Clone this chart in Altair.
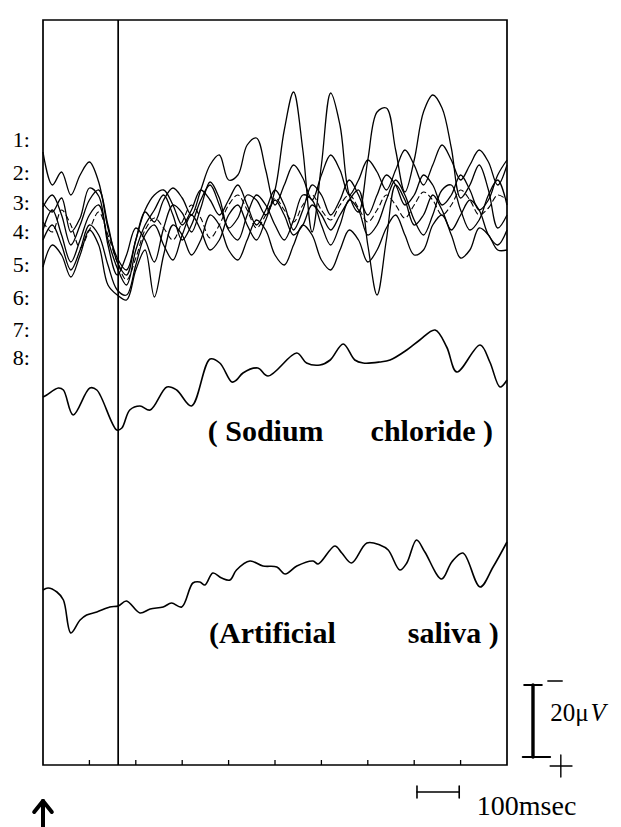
import altair as alt
import pandas as pd

# ---------------- data ----------------
# time axis in ms (0..1000), amplitude in chart units (negative-up display)
t_grid = list(range(0, 1001, 20))

trace_1 = [203,212,198,232,218,188,196,245,275,255,228,240,262,228,205,213,232,208,182,198,228,218,195,200,215,190,130,92,150,232,165,93,125,195,212,160,112,108,150,192,160,112,95,108,148,198,185,165,190,228,215]
trace_2 = [240,225,245,270,250,225,235,265,290,295,265,235,225,245,260,235,215,230,250,240,215,205,225,240,220,200,215,235,225,205,215,230,215,200,190,245,295,240,185,200,225,215,195,210,230,215,200,210,235,245,230]
trace_3 = [152,185,172,195,175,162,182,228,258,270,240,212,222,200,188,198,215,190,165,155,180,175,145,138,170,205,185,165,178,200,175,155,170,195,180,160,172,190,170,150,165,185,165,145,160,180,165,150,162,185,165]
trace_4 = [230,210,235,262,240,215,205,240,268,285,250,225,210,195,215,240,225,200,185,205,230,240,215,195,205,225,240,220,195,200,225,245,225,200,210,235,225,200,180,195,220,235,215,190,185,210,230,220,195,180,205]
trace_5 = [267,245,255,277,255,230,245,285,295,300,270,250,297,255,225,235,255,240,215,225,250,260,240,220,230,255,265,245,225,235,260,270,250,230,240,262,250,228,215,235,255,250,225,215,235,258,250,228,235,250,250]
trace_6 = [207,195,215,245,225,200,190,225,262,275,240,210,195,190,205,225,210,190,200,215,200,185,205,225,210,190,205,230,210,185,195,215,200,180,195,215,195,175,185,205,195,175,185,205,195,175,190,210,200,175,160]
trace_7 = [222,232,210,225,248,230,212,235,262,280,258,230,218,228,240,222,205,218,238,225,205,195,210,228,215,198,210,222,205,195,210,220,205,195,208,222,210,195,205,218,205,192,200,215,205,190,200,215,208,195,200]

nacl_t = [0,8,33,44,65,101,116,159,170,187,209,231,267,288,320,360,381,407,417,431,463,485,547,568,597,619,647,672,690,726,748,784,812,845,870,892,942,963,985,1000]
nacl_v = [397,395,388,390,415,388,390,430,428,410,406,410,387,390,406,359,363,382,380,373,368,376,353,363,365,360,344,360,363,362,360,350,340,330,347,372,345,362,387,380]

saliva_t = [0,11,30,44,60,80,94,116,144,162,180,209,231,259,277,299,323,338,349,366,385,403,417,446,474,504,522,547,582,593,629,644,665,698,726,744,769,784,805,823,859,881,905,942,970,1000]
saliva_v = [590,588,592,600,633,620,615,612,607,606,601,613,609,607,603,607,583,582,585,573,578,580,570,561,566,567,574,566,561,564,546,553,563,543,545,550,570,563,540,552,579,562,553,587,567,542]

label_names = ["1:", "2:", "3:", "4:", "5:", "6:", "7:", "8:"]
label_levels = [140, 173, 203, 232, 265, 298, 330, 358]

tick_times = [100, 200, 300, 400, 500, 600, 700, 800, 900]
stim_time = 162

# ---------------- build tables ----------------
rows = []
for name, vals in [("1", trace_1), ("2", trace_2), ("3", trace_3), ("4", trace_4), ("5", trace_5), ("6", trace_6)]:
    for t, v in zip(t_grid, vals):
        rows.append({"t": t, "v": v, "trace": name})
cluster_df = pd.DataFrame(rows)
dashed_df = pd.DataFrame({"t": t_grid, "v": trace_7})

avg_rows = []
for t, v in zip(nacl_t, nacl_v):
    avg_rows.append({"t": t, "v": v, "trace": "NaCl"})
for t, v in zip(saliva_t, saliva_v):
    avg_rows.append({"t": t, "v": v, "trace": "saliva"})
avg_df = pd.DataFrame(avg_rows)

xs = alt.Scale(domain=[0, 1000], nice=False, zero=False)
ys = alt.Scale(domain=[20, 765], nice=False, zero=False, reverse=True)
X = lambda f: alt.X(f, type="quantitative", scale=xs, axis=None)
Y = lambda f: alt.Y(f, type="quantitative", scale=ys, axis=None)

cluster = alt.Chart(cluster_df).mark_line(
    interpolate="catmull-rom", color="black", strokeWidth=1.3
).encode(x=X("t"), y=Y("v"), detail="trace:N")

dashed = alt.Chart(dashed_df).mark_line(
    interpolate="catmull-rom", color="black", strokeWidth=1.1, strokeDash=[6, 3]
).encode(x=X("t"), y=Y("v"))

averages = alt.Chart(avg_df).mark_line(
    interpolate="catmull-rom", color="black", strokeWidth=1.6
).encode(x=X("t"), y=Y("v"), detail="trace:N")

stim = alt.Chart(pd.DataFrame({"t": [stim_time], "y1": [20], "y2": [765]})).mark_rule(
    color="black", strokeWidth=1.7
).encode(x=X("t"), y=Y("y1"), y2="y2")

ticks = alt.Chart(pd.DataFrame({"t": tick_times, "y1": [765] * len(tick_times), "y2": [760] * len(tick_times)})).mark_rule(
    color="black", strokeWidth=1.3
).encode(x=X("t"), y=Y("y1"), y2="y2")

labels = alt.Chart(pd.DataFrame({"t": [-47] * 8, "v": label_levels, "txt": label_names})).mark_text(
    font="Liberation Serif", fontSize=22, align="center", baseline="middle", color="black"
).encode(x=X("t"), y=Y("v"), text="txt:N")

cond_left = alt.Chart(pd.DataFrame({"t": [355, 358], "v": [432, 634], "txt": ["( Sodium", "(Artificial"]})).mark_text(
    font="Liberation Serif", fontWeight="bold", fontSize=30, align="left", baseline="middle", color="black"
).encode(x=X("t"), y=Y("v"), text="txt:N")

cond_right = alt.Chart(pd.DataFrame({"t": [970, 982], "v": [432, 634], "txt": ["chloride )", "saliva )"]})).mark_text(
    font="Liberation Serif", fontWeight="bold", fontSize=30, align="right", baseline="middle", color="black"
).encode(x=X("t"), y=Y("v"), text="txt:N")

# calibration bars and the stimulus arrow
seg = pd.DataFrame({
    "x1": [1056, 1037, 1034, 1088, 1093, 1116, 806, 806, 897, 0, 0, 0],
    "x2": [1056, 1075, 1093, 1119, 1140, 1116, 897, 806, 897, 0, -19, 19],
    "y1": [685, 685, 757, 681, 766, 755, 792, 786, 786, 801, 801, 801],
    "y2": [757, 685, 757, 681, 766, 777, 792, 798, 798, 827, 812, 812],
    "w": [3.4, 2, 2, 1.4, 1.4, 1.4, 1.6, 1.6, 1.6, 4, 4, 4],
})
bars = alt.Chart(seg).mark_rule(color="black", strokeCap="round").encode(
    x=X("x1"), x2="x2", y=Y("y1"), y2="y2",
    strokeWidth=alt.StrokeWidth("w:Q", scale=None),
)

uv_text = alt.Chart(pd.DataFrame({"t": [1093], "v": [713], "txt": ["20\u03bc"]})).mark_text(
    font="Liberation Serif", fontSize=25, align="left", baseline="middle", color="black"
).encode(x=X("t"), y=Y("v"), text="txt:N")
v_text = alt.Chart(pd.DataFrame({"t": [1180], "v": [713], "txt": ["V"]})).mark_text(
    font="Liberation Serif", fontSize=25, fontStyle="italic", align="left", baseline="middle", color="black"
).encode(x=X("t"), y=Y("v"), text="txt:N")
ms_text = alt.Chart(pd.DataFrame({"t": [935], "v": [807], "txt": ["100msec"]})).mark_text(
    font="Liberation Serif", fontSize=28, align="left", baseline="middle", color="black"
).encode(x=X("t"), y=Y("v"), text="txt:N")

chart = alt.layer(
    cluster, dashed, averages, stim, ticks, labels, cond_left, cond_right, bars, uv_text, v_text, ms_text
).properties(
    width=464, height=745,
    padding={"left": 43, "top": 20, "right": 114, "bottom": 62},
    autosize=alt.AutoSizeParams(type="none"),
    background="white",
).configure_view(stroke="black", strokeWidth=1.7)

chart.save("out.html", embed_options={"renderer": "svg", "actions": False})
